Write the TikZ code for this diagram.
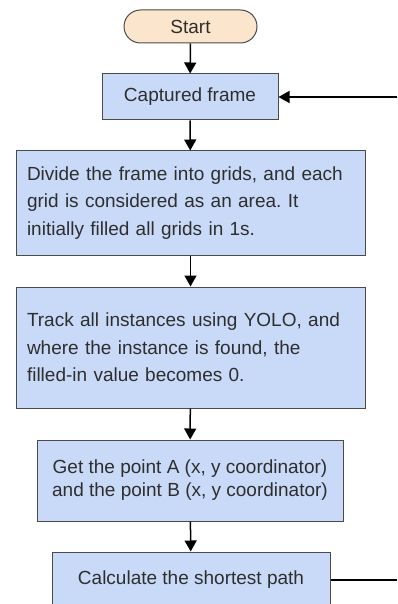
\documentclass[tikz,border=0pt]{standalone}
\usepackage{fontspec}
\setmainfont{Liberation Sans}
\usetikzlibrary{arrows.meta,shapes.misc}
\definecolor{boxblue}{HTML}{C9DAF8}
\definecolor{startfill}{HTML}{FCE5CD}
\definecolor{edge}{HTML}{4A4A4A}
\definecolor{txt}{HTML}{2E2E2E}
\frenchspacing
\begin{document}
\begin{tikzpicture}[x=1pt,y=-1pt,
  proc/.style={draw=edge,line width=1pt,fill=boxblue,rectangle,inner sep=0pt,text=txt,
    font=\fontsize{19}{27.5}\selectfont},
  term/.style={draw=edge,line width=1pt,fill=startfill,rounded rectangle,inner sep=0pt,text=txt,
    font=\fontsize{19}{27.5}\selectfont},
  flow/.style={line width=1.5pt,-{Triangle[length=11pt,width=12pt]}},
  plain/.style={line width=1.5pt}]
\useasboundingbox (0,0) rectangle (397,604);
\node[term,minimum width=133pt,minimum height=33pt] (start) at (190.5,26.5) {Start};
\node[proc,minimum width=176pt,minimum height=46pt] (cap) at (190,97) {Captured frame};
\node[proc,minimum width=349pt,minimum height=104pt,text width=327pt,align=left] (div) at (190.5,203)
  {Divide the frame into grids, and each\\grid is considered as an area. It\\initially filled all grids in 1s.};
\node[proc,minimum width=349pt,minimum height=121pt,text width=327pt,align=left] (trk) at (190.5,347.5)
  {Track all instances using YOLO, and\\where the instance is found, the\\filled-in value becomes 0.};
\node[proc,minimum width=306pt,minimum height=81pt,align=center,font=\fontsize{19}{23}\selectfont] (get) at (190,480.5)
  {Get the point A (x, y coordinator)\\and the point B (x, y coordinator)};
\node[proc,minimum width=278pt,minimum height=56pt] (calc) at (191,580) {Calculate the shortest path};
\coordinate (rin) at (397,97);
\coordinate (rout) at (397,580);
\draw[flow] (start) -- (cap);
\draw[flow] (cap) -- (div);
\draw[flow] (div) -- (trk);
\draw[flow] (trk) -- (get);
\draw[flow] (get) -- (calc);
\draw[flow] (rin) -- (cap.east);
\draw[plain] (calc.east) -- (rout);
\end{tikzpicture}
\end{document}
